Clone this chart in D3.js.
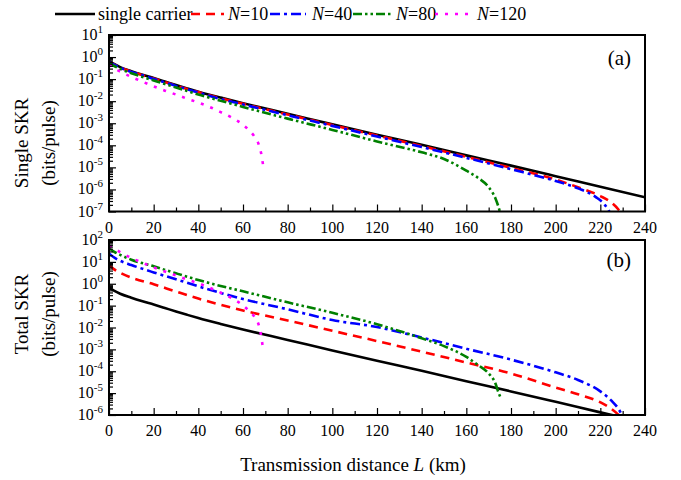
<!DOCTYPE html>
<html>
<head>
<meta charset="utf-8">
<script src="https://cdn.jsdelivr.net/npm/d3@7"></script>
<style>
  body { margin: 0; background: #fff; }
  svg text { font-family: "Liberation Serif", "DejaVu Serif", serif; }
</style>
</head>
<body>
<svg width="681" height="480"></svg>
<script>
// distancias (km) e taxas de chave
const xTicks = [0, 20, 40, 60, 80, 100, 120, 140, 160, 180, 200, 220, 240];

// single carrier (igual nos dois paineis)
const distCarrier = [0, 2, 5, 10, 15, 20, 25, 30, 35, 40, 50, 60, 80, 100, 120, 140, 160, 180, 200, 220, 240];
const skrCarrier = [6.6e-1, 5.0e-1, 3.5e-1, 2.3e-1, 1.58e-1, 1.12e-1, 7.8e-2, 5.4e-2, 3.8e-2, 2.7e-2, 1.45e-2, 8.1e-3, 2.7e-3, 8.9e-4, 3.0e-4, 1.05e-4, 3.5e-5, 1.2e-5, 4.0e-6, 1.32e-6, 4.4e-7];

// N=10
const distN10a = [0, 2, 5, 10, 15, 20, 25, 30, 35, 40, 50, 60, 80, 100, 120, 140, 160, 180, 200, 210, 220, 225, 228, 229.5];
const singleN10 = [6.3e-1, 4.8e-1, 3.4e-1, 2.2e-1, 1.51e-1, 1.07e-1, 7.4e-2, 5.1e-2, 3.6e-2, 2.6e-2, 1.35e-2, 7.6e-3, 2.5e-3, 8.3e-4, 2.8e-4, 9.3e-5, 3.0e-5, 9.5e-6, 2.8e-6, 1.26e-6, 5.0e-7, 2.5e-7, 1.26e-7, 7.9e-8];
const distN10b = [0, 2, 5, 10, 20, 30, 40, 50, 60, 80, 100, 120, 140, 160, 180, 200, 210, 220, 225, 228, 229.5];
const totalN10 = [7.2, 4.8, 3.2, 1.9, 0.95, 4.4e-1, 2.1e-1, 1.1e-1, 6.0e-2, 2.1e-2, 7.1e-3, 2.4e-3, 7.9e-4, 2.5e-4, 7.9e-5, 1.8e-5, 8.9e-6, 3.8e-6, 1.9e-6, 1.05e-6, 7.1e-7];

// N=40
const distN40a = [0, 2, 5, 10, 15, 20, 25, 30, 35, 40, 50, 60, 80, 100, 120, 140, 160, 180, 200, 210, 218, 222, 224, 225];
const singleN40 = [6.3e-1, 4.7e-1, 3.3e-1, 2.1e-1, 1.48e-1, 1.02e-1, 7.1e-2, 4.9e-2, 3.5e-2, 2.45e-2, 1.26e-2, 7.1e-3, 2.3e-3, 7.6e-4, 2.5e-4, 8.3e-5, 2.7e-5, 8.3e-6, 2.4e-6, 1.12e-6, 4.5e-7, 2.0e-7, 1.0e-7, 6.3e-8];
const distN40b = [0, 2, 5, 10, 20, 30, 40, 50, 60, 80, 100, 120, 140, 160, 180, 200, 210, 220, 225, 228, 230];
const totalN40 = [24.5, 16.6, 11.2, 7.2, 3.3, 1.6, 7.6e-1, 3.8e-1, 2.0e-1, 6.8e-2, 2.2e-2, 1.05e-2, 3.5e-3, 1.07e-3, 3.4e-4, 8.9e-5, 4.0e-5, 1.2e-5, 4.5e-6, 2.0e-6, 8.9e-7];

// N=80
const distN80a = [0, 2, 5, 10, 15, 20, 25, 30, 35, 40, 50, 60, 80, 100, 120, 140, 150, 160, 165, 170, 173, 175, 175.5];
const singleN80 = [5.4e-1, 4.1e-1, 2.9e-1, 1.86e-1, 1.26e-1, 8.7e-2, 6.0e-2, 4.2e-2, 2.9e-2, 2.0e-2, 1.05e-2, 5.5e-3, 1.62e-3, 5.0e-4, 1.5e-4, 4.8e-5, 2.4e-5, 7.1e-6, 3.5e-6, 1.26e-6, 4.0e-7, 1.0e-7, 6.3e-8];
const distN80b = [0, 2, 5, 10, 20, 30, 40, 50, 60, 80, 100, 120, 140, 150, 160, 165, 170, 173, 174.5, 175.3];
const totalN80 = [42, 30, 21, 12.6, 6.3, 3.0, 1.48, 7.9e-1, 4.5e-1, 1.41e-1, 4.7e-2, 1.41e-2, 3.2e-3, 1.41e-3, 4.5e-4, 2.0e-4, 7.9e-5, 2.8e-5, 1.0e-5, 6.3e-6];

// N=120
const distN120a = [0, 2, 5, 10, 15, 20, 25, 30, 35, 40, 45, 50, 55, 60, 63, 65, 67, 68, 69];
const singleN120 = [4.5e-1, 3.2e-1, 2.2e-1, 1.26e-1, 7.6e-2, 4.7e-2, 3.0e-2, 2.0e-2, 1.29e-2, 8.7e-3, 5.5e-3, 3.2e-3, 1.8e-3, 8.5e-4, 4.5e-4, 2.6e-4, 1.12e-4, 5.0e-5, 1.26e-5];
const distN120b = [0, 5, 10, 15, 20, 25, 30, 35, 40, 45, 50, 55, 60, 63, 65, 67, 68, 68.8];
const totalN120 = [54, 28, 15, 9.1, 5.6, 3.6, 2.4, 1.55, 1.05, 6.6e-1, 3.9e-1, 2.2e-1, 1.02e-1, 5.4e-2, 3.2e-2, 1.35e-2, 5.0e-3, 1.41e-3];

const FONT = "Liberation Serif, DejaVu Serif, serif";
const svg = d3.select("svg").attr("font-family", FONT);

// estilos das series
const styles = {
  carrier: { color: "#000000", dash: null, width: 2.6 },
  n10: { color: "#ff0000", dash: "9,6", width: 2.6 },
  n40: { color: "#0000ff", dash: "10,4,3,4", width: 2.6 },
  n80: { color: "#008000", dash: "9,3,2.5,3,2.5,3", width: 2.6 },
  n120: { color: "#ff00ff", dash: "3,7", width: 2.6 }
};

const left = 109, right = 645;
const x = d3.scaleLinear().domain([0, 240]).range([left, right]);

const panels = [
  {
    id: "a", top: 35, bottom: 211.5, domain: [1e-7, 10], exps: d3.range(-7, 2),
    title: ["Single SKR", "(bits/pulse)"], labelY: 143, tag: "(a)", tagY: 65,
    series: [
      { d: distCarrier, v: skrCarrier, s: styles.carrier },
      { d: distN10a, v: singleN10, s: styles.n10 },
      { d: distN40a, v: singleN40, s: styles.n40 },
      { d: distN80a, v: singleN80, s: styles.n80 },
      { d: distN120a, v: singleN120, s: styles.n120 }
    ]
  },
  {
    id: "b", top: 240, bottom: 415, domain: [1e-6, 100], exps: d3.range(-6, 3),
    title: ["Total SKR", "(bits/pulse)"], labelY: 314, tag: "(b)", tagY: 267,
    series: [
      { d: distCarrier, v: skrCarrier, s: styles.carrier },
      { d: distN10b, v: totalN10, s: styles.n10 },
      { d: distN40b, v: totalN40, s: styles.n40 },
      { d: distN80b, v: totalN80, s: styles.n80 },
      { d: distN120b, v: totalN120, s: styles.n120 }
    ]
  }
];

panels.forEach(p => {
  const y = d3.scaleLog().domain(p.domain).range([p.bottom, p.top]);
  const g = svg.append("g");

  g.append("clipPath").attr("id", "clip-" + p.id)
    .append("rect")
    .attr("x", left).attr("y", p.top)
    .attr("width", right - left).attr("height", p.bottom - p.top);

  // curvas
  const line = d3.line()
    .x(d => x(d[0]))
    .y(d => y(d[1]))
    .curve(d3.curveMonotoneX);

  p.series.forEach(sr => {
    const pts = sr.d.map((dd, i) => [dd, sr.v[i]]);
    g.append("path")
      .attr("clip-path", `url(#clip-${p.id})`)
      .attr("d", line(pts))
      .attr("fill", "none")
      .attr("stroke", sr.s.color)
      .attr("stroke-width", sr.s.width)
      .attr("stroke-dasharray", sr.s.dash);
  });

  // eixo y (ticks para dentro, com menores)
  const yAxis = d3.axisLeft(y)
    .tickValues(p.exps.flatMap(e => d3.range(1, 10).map(k => k * Math.pow(10, e))).filter(v => v <= p.domain[1] * 1.0001))
    .tickSize(0)
    .tickFormat("");
  const ya = g.append("g").attr("transform", `translate(${left},0)`).call(yAxis);
  ya.select(".domain").remove();
  ya.selectAll(".tick line")
    .attr("stroke", "#000")
    .attr("stroke-width", 1.2)
    .attr("x2", d => {
      const m = Math.round(d / Math.pow(10, Math.floor(Math.log10(d) + 1e-9)));
      return m === 1 ? 7 : 4;
    });

  p.exps.forEach(e => {
    const t = g.append("text")
      .attr("x", left - 6)
      .attr("y", y(Math.pow(10, e)) + 5)
      .attr("text-anchor", "end")
      .attr("font-family", FONT)
      .attr("font-size", 16);
    t.append("tspan").text("10");
    t.append("tspan").attr("dy", -7).attr("font-size", 11).text(e);
  });

  // eixo x (ticks para dentro)
  const xAxis = d3.axisBottom(x)
    .tickValues(d3.range(0, 241, 10))
    .tickSize(0)
    .tickFormat("");
  const xa = g.append("g").attr("transform", `translate(0,${p.bottom})`).call(xAxis);
  xa.select(".domain").remove();
  xa.selectAll(".tick line")
    .attr("stroke", "#000")
    .attr("stroke-width", 1.2)
    .attr("y2", d => d % 20 === 0 ? -7 : -4);

  g.selectAll("text.xlab")
    .data(xTicks)
    .enter()
    .append("text")
    .attr("class", "xlab")
    .attr("x", d => x(d))
    .attr("y", p.bottom + 21)
    .attr("text-anchor", "middle")
    .attr("font-family", FONT)
    .attr("font-size", 16)
    .text(d => d);

  // moldura
  g.append("rect")
    .attr("x", left).attr("y", p.top)
    .attr("width", right - left).attr("height", p.bottom - p.top)
    .attr("fill", "none")
    .attr("stroke", "#000")
    .attr("stroke-width", 2);

  // titulo do eixo y
  g.append("text")
    .attr("transform", `translate(28,${p.labelY}) rotate(-90)`)
    .attr("text-anchor", "middle")
    .attr("font-family", FONT)
    .attr("font-size", 19)
    .text(p.title[0]);
  g.append("text")
    .attr("transform", `translate(55,${p.labelY}) rotate(-90)`)
    .attr("text-anchor", "middle")
    .attr("font-family", FONT)
    .attr("font-size", 19)
    .text(p.title[1]);

  g.append("text")
    .attr("x", 631).attr("y", p.tagY)
    .attr("text-anchor", "end")
    .attr("font-family", FONT)
    .attr("font-size", 21)
    .text(p.tag);
});

// titulo do eixo x
const xt = svg.append("text")
  .attr("x", 353).attr("y", 471)
  .attr("text-anchor", "middle")
  .attr("font-family", FONT)
  .attr("font-size", 19);
xt.append("tspan").text("Transmission distance ");
xt.append("tspan").attr("font-style", "italic").text("L");
xt.append("tspan").text(" (km)");

// legenda
const legendItems = [
  { s: styles.carrier, x0: 55, x1: 95, tx: 98, label: ["", "single carrier"] },
  { s: styles.n10, x0: 191, x1: 224, tx: 228, label: ["N", "=10"] },
  { s: styles.n40, x0: 270, x1: 306, tx: 312, label: ["N", "=40"] },
  { s: styles.n80, x0: 353, x1: 392, tx: 396, label: ["N", "=80"] },
  { s: styles.n120, x0: 435, x1: 474, tx: 477, label: ["N", "=120"] }
];
const lg = svg.append("g");
legendItems.forEach(it => {
  lg.append("line")
    .attr("x1", it.x0).attr("x2", it.x1)
    .attr("y1", 14).attr("y2", 14)
    .attr("stroke", it.s.color)
    .attr("stroke-width", it.s.width)
    .attr("stroke-dasharray", it.s.dash);
  const t = lg.append("text")
    .attr("x", it.tx).attr("y", 20)
    .attr("font-family", FONT)
    .attr("font-size", 18);
  if (it.label[0]) t.append("tspan").attr("font-style", "italic").text(it.label[0]);
  t.append("tspan").text(it.label[1]);
});
</script>
</body>
</html>
